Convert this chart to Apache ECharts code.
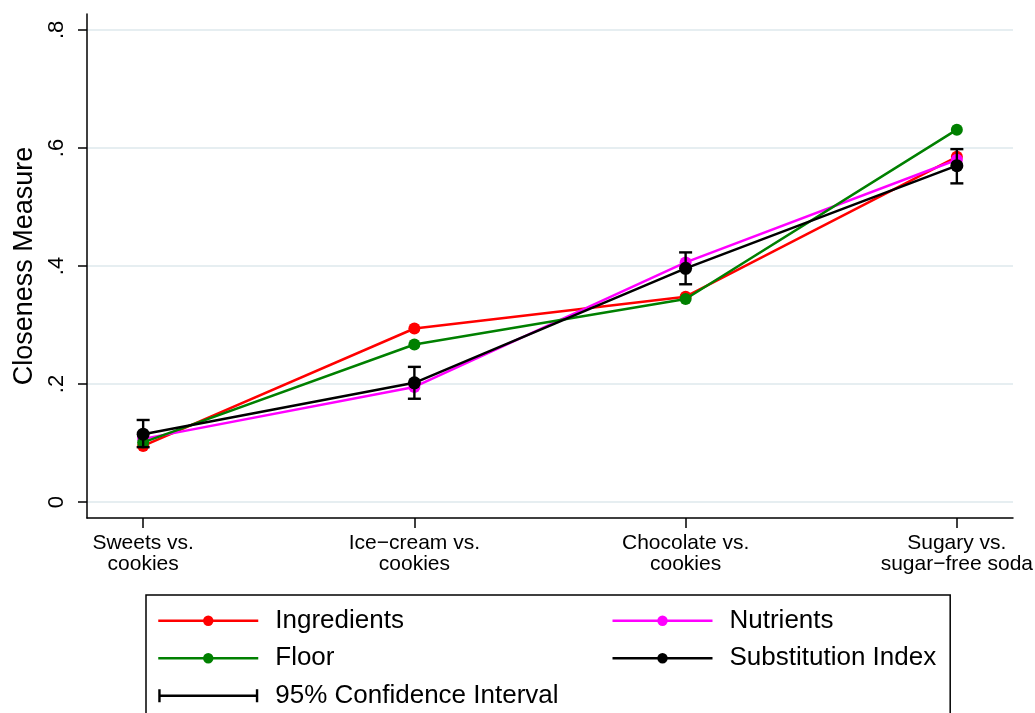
<!DOCTYPE html>
<html>
<head>
<meta charset="utf-8">
<title>Closeness Measure</title>
<script src="https://cdn.jsdelivr.net/npm/echarts@6/dist/echarts.min.js"></script>
<style>
  html, body { margin: 0; padding: 0; background: #fff; }
  #chart { width: 1035px; height: 713px; }
</style>
</head>
<body>
<div id="chart"></div>
<script>
// Product pairs along the x axis
const categories = [
  'Sweets vs.\ncookies',
  'Ice\u2212cream vs.\ncookies',
  'Chocolate vs.\ncookies',
  'Sugary vs.\nsugar\u2212free soda'
];

// Closeness measures per pair
const ingredients  = [0.095, 0.294, 0.348, 0.585];
const nutrients    = [0.107, 0.195, 0.406, 0.580];
const floorMeasure = [0.101, 0.267, 0.344, 0.631];
const substitution = [0.115, 0.202, 0.396, 0.570];

// 95% confidence interval of the substitution index
const ciLow  = [0.093, 0.175, 0.369, 0.540];
const ciHigh = [0.139, 0.229, 0.423, 0.598];

// Axis ticks
const yTicks = [0, 0.2, 0.4, 0.6, 0.8];
const xTicks = [1, 2, 3, 4];

const FONT = '"Liberation Sans", Arial, Helvetica, sans-serif';

const toPoints = arr => arr.map((v, i) => [i + 1, v]);
const ciData = ciLow.map((lo, i) => [i + 1, lo, ciHigh[i]]);

function lineSeries(name, values, color, z, size) {
  return {
    name: name,
    type: 'line',
    data: toPoints(values),
    symbol: 'circle',
    symbolSize: size,
    z: z,
    lineStyle: { color: color, width: 2.5 },
    itemStyle: { color: color },
    emphasis: { disabled: true },
    animation: false
  };
}

const chart = echarts.init(document.getElementById('chart'), null, { renderer: 'canvas' });

chart.setOption({
  backgroundColor: '#fff',
  animation: false,
  textStyle: { fontFamily: FONT },
  grid: {
    left: 87, top: 14, width: 926, height: 504,
    outerBoundsMode: 'none'
  },
  xAxis: {
    type: 'value',
    min: 0.793,
    max: 4.207,
    axisLine: { onZero: false, lineStyle: { color: '#000', width: 1.5 } },
    axisTick: { customValues: xTicks, length: 10, lineStyle: { color: '#000', width: 1.5 } },
    axisLabel: {
      customValues: xTicks,
      formatter: v => categories[Math.round(v) - 1],
      fontSize: 21,
      lineHeight: 21,
      color: '#000',
      fontFamily: FONT,
      margin: 15
    },
    splitLine: { show: false }
  },
  yAxis: {
    type: 'value',
    min: -0.0271,
    max: 0.827,
    name: 'Closeness Measure',
    nameLocation: 'middle',
    nameGap: 48,
    nameTextStyle: { fontSize: 27, color: '#000', fontFamily: FONT },
    axisLine: { show: true, onZero: false, lineStyle: { color: '#000', width: 1.5 } },
    axisTick: { show: true, customValues: yTicks, length: 9, lineStyle: { color: '#000', width: 1.5 } },
    axisLabel: {
      customValues: yTicks,
      rotate: 90,
      margin: 19,
      fontSize: 22,
      color: '#000',
      fontFamily: FONT,
      formatter: v => (v === 0 ? '0' : String(v).replace(/^0/, ''))
    },
    splitLine: { show: true, lineStyle: { color: '#e6eef1', width: 2 } }
  },
  legend: {
    orient: 'vertical',
    left: 146,
    top: 595,
    height: 118,
    padding: [7, 14, 10, 11],
    itemGap: 0,
    itemWidth: 100,
    itemHeight: 13,
    borderColor: '#000',
    borderWidth: 1.5,
    selectedMode: false,
    lineStyle: { width: 2.5 },
    textStyle: {
      fontSize: 26,
      lineHeight: 37.5,
      color: '#000',
      fontFamily: FONT,
      padding: [0, 0, 0, 12]
    },
    data: [
      { name: 'Ingredients', textStyle: { width: 336 } },
      { name: 'Floor', textStyle: { width: 336 } },
      {
        name: '95% Confidence Interval',
        textStyle: { width: 336 },
        icon: 'path://M0,0h2.4v13h-2.4z M0,5.3h100v2.4h-100z M97.6,0h2.4v13h-2.4z'
      },
      { name: 'Nutrients' },
      { name: 'Substitution Index' }
    ]
  },
  series: [
    lineSeries('Ingredients', ingredients, '#ff0000', 2, 12),
    lineSeries('Nutrients', nutrients, '#ff00ff', 3, 12),
    lineSeries('Floor', floorMeasure, '#008000', 4, 12),
    lineSeries('Substitution Index', substitution, '#000000', 5, 13),
    {
      name: '95% Confidence Interval',
      type: 'custom',
      data: ciData,
      z: 6,
      encode: { x: 0, y: [1, 2] },
      itemStyle: { color: '#000' },
      renderItem: function (params, api) {
        const x = api.value(0);
        const lo = api.coord([x, api.value(1)]);
        const hi = api.coord([x, api.value(2)]);
        const cap = 6.5;
        const st = { stroke: '#000', lineWidth: 2.4 };
        return {
          type: 'group',
          children: [
            { type: 'line', shape: { x1: lo[0], y1: lo[1], x2: hi[0], y2: hi[1] }, style: st },
            { type: 'line', shape: { x1: lo[0] - cap, y1: lo[1], x2: lo[0] + cap, y2: lo[1] }, style: st },
            { type: 'line', shape: { x1: hi[0] - cap, y1: hi[1], x2: hi[0] + cap, y2: hi[1] }, style: st }
          ]
        };
      }
    }
  ]
});
</script>
</body>
</html>
